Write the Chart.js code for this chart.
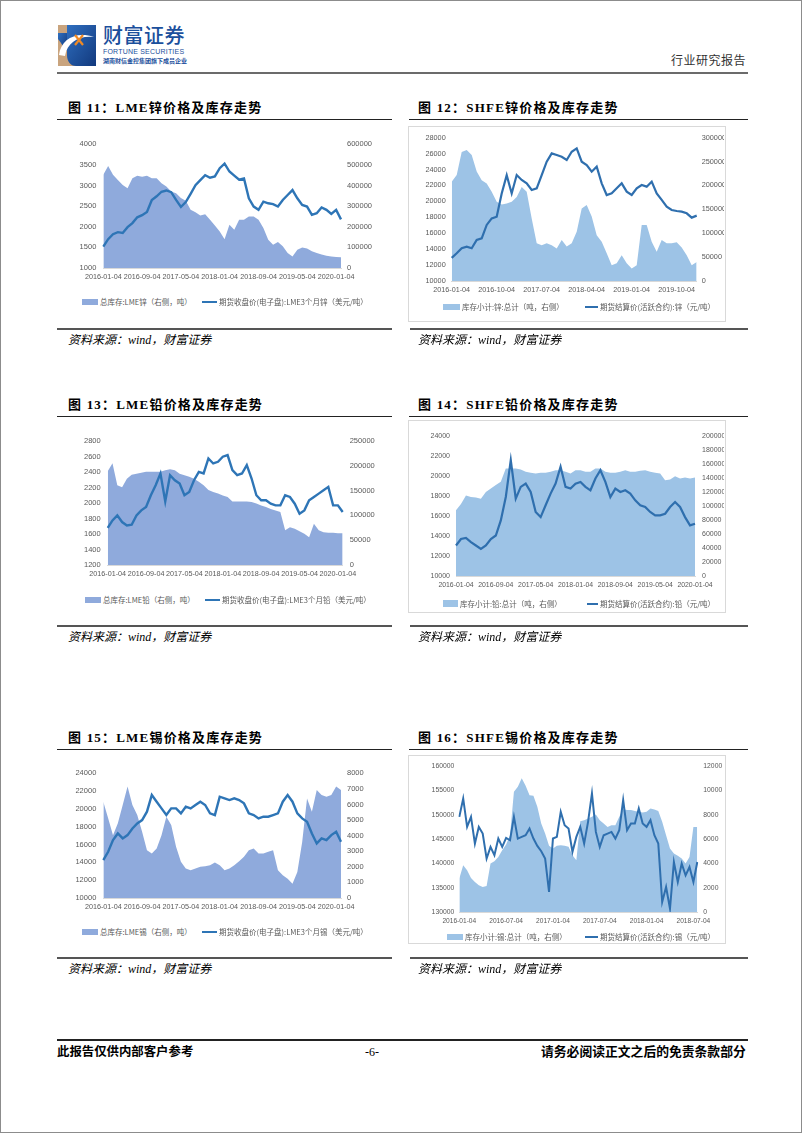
<!DOCTYPE html>
<html>
<head>
<meta charset="utf-8">
<script src="https://cdn.jsdelivr.net/npm/chart.js@4.4.0/dist/chart.umd.min.js"></script>
<style>
body { margin: 0; background: #fff; }
#page { position: relative; width: 802px; height: 1133px; overflow: hidden; font-family: "Noto Sans CJK SC", sans-serif; }
.frame { position: absolute; left: 0; top: 0; width: 800px; height: 1131px; border: 1px solid #8c8c8c; }
.abs { position: absolute; white-space: nowrap; }
.title { font-family: "Liberation Serif", "Noto Sans CJK SC", serif; font-weight: bold; font-size: 13px; letter-spacing: 1.2px; line-height: 16px; color: #000; }
.src { font-family: "Liberation Serif", "Noto Sans CJK SC", serif; font-style: italic; font-size: 12px; line-height: 14px; color: #000; }
.rule { position: absolute; }
.box { position: absolute; border: 1px solid #d9d9d9; box-sizing: border-box; }
canvas { position: absolute; }
.leg { position: absolute; font-size: 7.5px; line-height: 9px; color: #595959; white-space: nowrap; display: flex; align-items: center; }
.sw { display: inline-block; width: 16px; height: 6px; margin-right: 2px; }
.ln { display: inline-block; width: 15px; height: 2px; margin-right: 2px; }
</style>
</head>
<body>
<div id="page">
  <div class="frame"></div>

  <!-- header -->
  <svg class="abs" style="left:58px;top:25px" width="38" height="41" viewBox="0 0 38 41">
    <defs>
      <linearGradient id="lg" x1="0" y1="0" x2="1" y2="1">
        <stop offset="0" stop-color="#2f6fc0"/>
        <stop offset="1" stop-color="#12397d"/>
      </linearGradient>
    </defs>
    <rect x="0" y="0" width="38" height="41" fill="#c9a47e"/>
    <path d="M9 0 H38 V41 H18 C12 41 9 36 9 30 Z" fill="url(#lg)"/>
    <path d="M0 8 H9 V26 C5 22 2 16 0 14 Z" fill="url(#lg)"/>
    <path d="M1 30 C3 14 18 6 36 12 C22 10 9 17 7 31 Z" fill="#ffffff"/>
    <path d="M17 10 L25 20 M25 10 L17 20" stroke="#f08a24" stroke-width="2.2"/>
  </svg>
  <div class="abs" style="left:103px;top:22px;font-size:20px;line-height:26px;color:#1b4f9c;font-weight:500;letter-spacing:0.5px">财富证券</div>
  <div class="abs" style="left:103px;top:48px;font-family:'Liberation Sans';font-size:7px;line-height:8px;color:#1b4f9c;letter-spacing:0.2px">FORTUNE SECURITIES</div>
  <div class="abs" style="left:103px;top:57px;font-size:6px;line-height:8px;color:#1b4f9c;font-weight:bold">湖南财信金控集团旗下成员企业</div>
  <div class="abs" style="left:671px;top:52px;font-size:12px;line-height:16px;color:#333;letter-spacing:0.5px">行业研究报告</div>
  <div class="rule" style="left:57px;top:72px;width:691px;height:2px;background:#6b6b6b"></div>

  <!-- row 1 -->
  <div class="abs title" style="left:68px;top:100px">图 11：LME锌价格及库存走势</div>
  <div class="abs title" style="left:418px;top:100px">图 12：SHFE锌价格及库存走势</div>
  <div class="rule" style="left:57px;top:119px;width:335px;height:1px;background:#222"></div>
  <div class="rule" style="left:409px;top:119px;width:339px;height:1px;background:#222"></div>
  <div class="box" style="left:408px;top:126px;width:318px;height:196px"></div>
  <canvas id="c11" width="318" height="160" style="left:62px;top:128px"></canvas>
  <canvas id="c12" width="315" height="174" style="left:409px;top:127px"></canvas>
  <div class="leg" style="left:82px;top:297px"><span class="sw" style="background:rgb(143,170,220)"></span>总库存:LME锌（右侧，吨）</div>
  <div class="leg" style="left:202px;top:297px"><span class="ln" style="background:#2E75B6"></span>期货收盘价(电子盘):LME3个月锌（美元/吨）</div>
  <div class="leg" style="left:443px;top:302px"><span class="sw" style="background:rgb(157,195,230);width:17px"></span>库存小计:锌:总计（吨，右侧）</div>
  <div class="leg" style="left:585px;top:302px"><span class="ln" style="background:#2F6FAE;width:13px"></span>期货结算价(活跃合约):锌（元/吨）</div>
  <div class="rule" style="left:57px;top:328px;width:335px;height:2px;background:#555"></div>
  <div class="rule" style="left:410px;top:328px;width:338px;height:2px;background:#555"></div>
  <div class="abs src" style="left:68px;top:333px">资料来源：wind，财富证券</div>
  <div class="abs src" style="left:418px;top:333px">资料来源：wind，财富证券</div>

  <!-- row 2 -->
  <div class="abs title" style="left:68px;top:397px">图 13：LME铅价格及库存走势</div>
  <div class="abs title" style="left:418px;top:397px">图 14：SHFE铅价格及库存走势</div>
  <div class="rule" style="left:57px;top:416px;width:335px;height:1px;background:#222"></div>
  <div class="rule" style="left:409px;top:416px;width:339px;height:1px;background:#222"></div>
  <div class="box" style="left:408px;top:420px;width:318px;height:193px"></div>
  <canvas id="c13" width="318" height="160" style="left:62px;top:425px"></canvas>
  <canvas id="c14" width="315" height="175" style="left:409px;top:421px"></canvas>
  <div class="leg" style="left:85px;top:595px"><span class="sw" style="background:rgb(143,170,220)"></span>总库存:LME铅（右侧，吨）</div>
  <div class="leg" style="left:205px;top:595px"><span class="ln" style="background:#2E75B6"></span>期货收盘价(电子盘):LME3个月铅（美元/吨）</div>
  <div class="leg" style="left:443px;top:599px"><span class="sw" style="background:rgb(157,195,230);width:15px;height:7px"></span>库存小计:铅:总计（吨，右侧）</div>
  <div class="leg" style="left:587px;top:599px"><span class="ln" style="background:#2F6FAE;width:11px"></span>期货结算价(活跃合约):铅（元/吨）</div>
  <div class="rule" style="left:57px;top:625px;width:335px;height:2px;background:#555"></div>
  <div class="rule" style="left:410px;top:625px;width:338px;height:2px;background:#555"></div>
  <div class="abs src" style="left:68px;top:630px">资料来源：wind，财富证券</div>
  <div class="abs src" style="left:418px;top:630px">资料来源：wind，财富证券</div>

  <!-- row 3 -->
  <div class="abs title" style="left:68px;top:730px">图 15：LME锡价格及库存走势</div>
  <div class="abs title" style="left:418px;top:730px">图 16：SHFE锡价格及库存走势</div>
  <div class="rule" style="left:57px;top:749px;width:335px;height:1px;background:#222"></div>
  <div class="rule" style="left:409px;top:749px;width:339px;height:1px;background:#222"></div>
  <div class="box" style="left:408px;top:755px;width:318px;height:189px"></div>
  <canvas id="c15" width="318" height="163" style="left:62px;top:755px"></canvas>
  <canvas id="c16" width="315" height="176" style="left:409px;top:756px"></canvas>
  <div class="leg" style="left:82px;top:927px"><span class="sw" style="background:rgb(143,170,220)"></span>总库存:LME锡（右侧，吨）</div>
  <div class="leg" style="left:202px;top:927px"><span class="ln" style="background:#2E75B6"></span>期货收盘价(电子盘):LME3个月锡（美元/吨）</div>
  <div class="leg" style="left:447px;top:932px"><span class="sw" style="background:rgb(157,195,230)"></span>库存小计:锡:总计（吨，右侧）</div>
  <div class="leg" style="left:585px;top:932px"><span class="ln" style="background:#2F6FAE;width:13px"></span>期货结算价(活跃合约):锡（元/吨）</div>
  <div class="rule" style="left:57px;top:957px;width:335px;height:2px;background:#555"></div>
  <div class="rule" style="left:410px;top:957px;width:338px;height:2px;background:#555"></div>
  <div class="abs src" style="left:68px;top:962px">资料来源：wind，财富证券</div>
  <div class="abs src" style="left:418px;top:962px">资料来源：wind，财富证券</div>

  <!-- footer -->
  <div class="rule" style="left:57px;top:1039px;width:691px;height:2px;background:#222"></div>
  <div class="abs" style="left:57px;top:1044px;font-size:12.4px;line-height:16px;font-weight:bold;font-family:'Liberation Serif','Noto Sans CJK SC'">此报告仅供内部客户参考</div>
  <div class="abs" style="left:365px;top:1044px;font-size:12px;line-height:16px;font-family:'Liberation Serif'">-6-</div>
  <div class="abs" style="left:541px;top:1044px;font-size:12.8px;line-height:16px;font-weight:bold;font-family:'Liberation Serif','Noto Sans CJK SC'">请务必阅读正文之后的免责条款部分</div>
</div>

<script>
// tick labels shown on the x axes
const ticksEvery8 = ['2016-01-04', '2016-09-04', '2017-05-04', '2018-01-04', '2018-09-04', '2019-05-04', '2020-01-04'];
const ticks12 = ['2016-01-04', '2016-10-04', '2017-07-04', '2018-04-04', '2019-01-04', '2019-10-04'];
const ticks16 = ['2016-01-04', '2016-07-04', '2017-01-04', '2017-07-04', '2018-01-04', '2018-07-04'];

// categories: monthly dates (day 04), semi-monthly for fig. 16
function monthLabels(n, semi) {
    const out = [];
    for (let i = 0; i < n; i++) {
        const m = semi ? Math.floor(i / 2) : i;
        const y = 2016 + Math.floor(m / 12);
        const mm = String(m % 12 + 1).padStart(2, '0');
        out.push(y + '-' + mm + (semi && i % 2 ? '-19' : '-04'));
    }
    return out;
}
const months50 = monthLabels(50);
const months49 = monthLabels(49);
const halfMonths62 = monthLabels(62, true);

// 图11 LME zinc
const lmeZincPrice = [1520, 1700, 1820, 1870, 1850, 1990, 2090, 2230, 2280, 2360, 2650, 2740,
    2850, 2880, 2840, 2650, 2480, 2600, 2800, 3010, 3130, 3250, 3190, 3220,
    3420, 3530, 3340, 3240, 3140, 3170, 2690, 2490, 2410, 2610, 2570, 2550,
    2490, 2650, 2770, 2890, 2690, 2530, 2490, 2290, 2330, 2470, 2410, 2310,
    2410, 2180];
const lmeZincStock = [452000, 495000, 452000, 427000, 403000, 387000, 435000, 448000, 443000, 448000, 435000, 435000,
    411000, 395000, 371000, 363000, 339000, 326000, 282000, 271000, 255000, 261000, 234000, 206000,
    177000, 140000, 210000, 185000, 234000, 234000, 250000, 250000, 234000, 194000, 137000, 113000,
    126000, 105000, 73000, 56000, 89000, 100000, 94000, 81000, 73000, 65000, 60000, 56000,
    53000, 52000];

// 图12 SHFE zinc
const shfeZincPrice = [12900, 13480, 14110, 14320, 14110, 15150, 15360, 17040, 17870, 18080, 21000, 23300,
    21000, 23310, 22690, 22270, 21430, 21640, 23310, 24990, 26030, 25820, 25610, 25200,
    26240, 26660, 24990, 24570, 23730, 24360, 22270, 20800, 21010, 21640, 22270, 21220,
    20800, 21640, 22060, 21850, 22480, 21010, 20180, 19340, 18920, 18790, 18710, 18500,
    17960, 18210];
const shfeZincStock = [208000, 222000, 270000, 274000, 264000, 229000, 211000, 204000, 187000, 166000, 160000, 162000,
    166000, 176000, 197000, 187000, 131000, 79000, 75000, 79000, 75000, 68000, 86000, 72000,
    79000, 103000, 152000, 159000, 135000, 96000, 82000, 58000, 33000, 37000, 54000, 37000,
    26000, 33000, 117000, 117000, 82000, 61000, 86000, 79000, 79000, 81000, 70000, 54000,
    33000, 40000];

// 图13 LME lead
const lmeLeadPrice = [1680, 1775, 1840, 1754, 1710, 1720, 1840, 1905, 1948, 2100, 2229, 2380,
    2020, 2359, 2294, 2250, 2100, 2143, 2294, 2402, 2381, 2575, 2510, 2532,
    2597, 2618, 2424, 2359, 2381, 2489, 2316, 2100, 2035, 2035, 1991, 1970,
    1970, 2100, 2078, 1991, 1862, 1905, 2035, 2078, 2121, 2164, 2208, 1970,
    1970, 1883];
const lmeLeadStock = [189000, 205000, 161000, 157000, 174000, 182000, 184000, 186000, 188000, 188000, 188000, 188000,
    191000, 193000, 191000, 184000, 181000, 178000, 174000, 168000, 161000, 151000, 147000, 144000,
    140000, 137000, 128000, 128000, 128000, 128000, 127000, 124000, 120000, 117000, 113000, 110000,
    107000, 70000, 76000, 73000, 68000, 63000, 56000, 83000, 70000, 66000, 65000, 65000,
    64000, 64000];

// 图14 SHFE lead
const shfeLeadPrice = [13050, 13700, 13800, 13380, 13050, 12710, 13050, 13700, 14050, 15560, 17900, 21590,
    17740, 18910, 19240, 18400, 16400, 15890, 17070, 18240, 19240, 20920, 18910, 18740,
    19240, 19410, 18910, 18570, 19750, 20580, 19410, 17900, 18740, 18400, 18570, 18240,
    17570, 17070, 16900, 16400, 16060, 16060, 16230, 16900, 17400, 16900, 15890, 15060,
    15220];
const shfeLeadStock = [94000, 103000, 115000, 113000, 112000, 110500, 120000, 125000, 130000, 134500, 153600, 153600,
    153600, 152200, 148800, 147400, 146400, 147400, 147400, 148800, 151200, 151200, 148800, 146400,
    151200, 151200, 148800, 148800, 153600, 153600, 148800, 147400, 147400, 148800, 151200, 148800,
    148800, 150200, 151200, 148800, 147400, 146400, 136900, 137800, 142600, 139200, 140700, 139200,
    140700];

// 图15 LME tin
const lmeTinPrice = [14250, 15190, 16500, 17250, 16690, 17060, 17810, 18375, 18750, 19690, 21560, 20810,
    20060, 19310, 20060, 20060, 19500, 20250, 20060, 20440, 20810, 20440, 19500, 19310,
    21375, 21190, 21000, 21190, 21000, 20625, 19500, 19310, 18940, 19125, 19125, 19310,
    19500, 20810, 21560, 20810, 19500, 18940, 18560, 17250, 16125, 16690, 16500, 17060,
    17440, 16310];
const lmeTinStock = [6180, 5110, 4030, 4790, 5970, 7150, 5970, 5320, 4250, 3070, 2850, 3180,
    4030, 5210, 4680, 3280, 2320, 1890, 1780, 1890, 2000, 2040, 2100, 2270,
    2100, 1780, 1890, 2100, 2360, 2640, 3070, 3180, 2850, 2850, 2960, 3070,
    1780, 1460, 1240, 920, 1670, 3600, 6390, 5540, 6930, 6610, 6500, 6610,
    7150, 6930];

// 图16 SHFE tin (semi-monthly)
const shfeTinPrice = [149560, 153340, 147500, 149560, 144070, 147500, 146130, 140980, 143380, 141660, 145100, 143380,
    145230, 144750, 149560, 145100, 145440, 145780, 147160, 145100, 143590, 142490, 140980, 134110,
    145100, 145440, 150590, 147840, 147160, 142350, 145440, 147500, 144070, 148530, 154370, 146470,
    143380, 145780, 146130, 146470, 145100, 146810, 153000, 146810, 148190, 148190, 151280, 148190,
    147500, 148870, 145780, 144070, 132050, 135140, 130670, 140290, 136170, 139940, 137540, 139260,
    136170, 140290];
const shfeTinStock = [2750, 3850, 3430, 2800, 2470, 2200, 2060, 2140, 3980, 4180, 4530, 5080,
    5550, 6320, 9890, 10300, 10990, 10380, 9610, 9560, 8650, 7280, 6460, 5440,
    5220, 5440, 5490, 5440, 5360, 4670, 4260, 7470, 7550, 7690, 7830, 8020,
    7550, 7280, 7000, 7140, 7140, 7830, 8460, 8380, 8380, 8300, 8240, 8190,
    8240, 8520, 8430, 8300, 7420, 6320, 5220, 4810, 4620, 4400, 3980, 4530,
    7000, 7000];

Chart.defaults.font.family = "'Liberation Sans', Arial, sans-serif";
Chart.defaults.font.size = 7.5;
Chart.defaults.color = '#595959';

function makeChart(id, o) {
    const ctx = document.getElementById(id).getContext('2d');
    new Chart(ctx, {
        type: 'line',
        data: {
            labels: o.labels,
            datasets: [{
                label: o.priceName,
                data: o.price,
                yAxisID: 'yL',
                borderColor: o.lineColor,
                borderWidth: o.lineWidth,
                pointRadius: 0,
                tension: 0,
                fill: false,
                order: 0
            }, {
                label: o.stockName,
                data: o.stock,
                yAxisID: 'yR',
                backgroundColor: o.areaColor,
                borderWidth: 0,
                pointRadius: 0,
                tension: 0,
                fill: 'origin',
                order: 1
            }]
        },
        options: {
            responsive: false,
            animation: false,
            layout: { padding: { top: o.padTop, left: 0, right: 0, bottom: 0 } },
            plugins: { legend: { display: false }, tooltip: { enabled: false } },
            scales: {
                x: {
                    grid: { display: false, drawTicks: false },
                    border: { display: true, color: '#d9d9d9' },
                    ticks: {
                        autoSkip: false, maxRotation: 0, padding: 5, font: { size: o.xFont },
                        callback: function (v) {
                            const l = this.getLabelForValue(v);
                            return o.ticks.includes(l) ? l : '';
                        }
                    },
                    afterFit: s => { s.height = 20; }
                },
                yL: {
                    position: 'left', min: o.left[0], max: o.left[1],
                    grid: { display: false, drawTicks: false }, border: { display: false },
                    ticks: { stepSize: o.left[2], padding: o.padL, font: { size: o.yFont }, callback: v => String(v) },
                    afterFit: s => { s.width = o.leftW; }
                },
                yR: {
                    position: 'right', min: o.right[0], max: o.right[1],
                    grid: { display: false, drawTicks: false }, border: { display: false },
                    ticks: { stepSize: o.right[2], padding: o.padR, font: { size: o.yFont }, callback: v => String(v) },
                    afterFit: s => { s.width = o.rightW; }
                }
            }
        }
    });
}

const lmeArea = 'rgb(143,170,220)', shfeArea = 'rgb(157,195,230)';
const lmeLine = '#2E75B6', shfeLine = '#2F6FAE';

makeChart('c11', { labels: months50, ticks: ticksEvery8, price: lmeZincPrice, stock: lmeZincStock,
    priceName: '期货收盘价(电子盘):LME3个月锌', stockName: '总库存:LME锌',
    left: [1000, 4000, 500], right: [0, 600000, 100000],
    leftW: 41.3, rightW: 39, padTop: 16.3, padL: 7, padR: 6, xFont: 7.2, yFont: 7.5,
    lineColor: lmeLine, lineWidth: 2.4, areaColor: lmeArea });

makeChart('c12', { labels: months50, ticks: ticks12, price: shfeZincPrice, stock: shfeZincStock,
    priceName: '期货结算价(活跃合约):锌', stockName: '库存小计:锌:总计',
    left: [10000, 28000, 2000], right: [0, 300000, 50000],
    leftW: 42.7, rightW: 27.3, padTop: 10.7, padL: 6, padR: 5, xFont: 7.2, yFont: 7.3,
    lineColor: shfeLine, lineWidth: 2.2, areaColor: shfeArea });

makeChart('c13', { labels: months50, ticks: ticksEvery8, price: lmeLeadPrice, stock: lmeLeadStock,
    priceName: '期货收盘价(电子盘):LME3个月铅', stockName: '总库存:LME铅',
    left: [1200, 2800, 200], right: [0, 250000, 50000],
    leftW: 45.7, rightW: 37.3, padTop: 16, padL: 7, padR: 7, xFont: 7.2, yFont: 7.5,
    lineColor: lmeLine, lineWidth: 2.4, areaColor: lmeArea });

makeChart('c14', { labels: months49, ticks: ticksEvery8, price: shfeLeadPrice, stock: shfeLeadStock,
    priceName: '期货结算价(活跃合约):铅', stockName: '库存小计:铅:总计',
    left: [10000, 24000, 2000], right: [0, 200000, 20000],
    leftW: 47, rightW: 29, padTop: 15, padL: 6, padR: 7, xFont: 6.9, yFont: 7,
    lineColor: shfeLine, lineWidth: 2.2, areaColor: shfeArea });

makeChart('c15', { labels: months50, ticks: ticksEvery8, price: lmeTinPrice, stock: lmeTinStock,
    priceName: '期货收盘价(电子盘):LME3个月锡', stockName: '总库存:LME锡',
    left: [10000, 24000, 2000], right: [0, 8000, 1000],
    leftW: 41.3, rightW: 39, padTop: 18.3, padL: 7, padR: 6, xFont: 7.2, yFont: 7.5,
    lineColor: lmeLine, lineWidth: 2.4, areaColor: lmeArea });

makeChart('c16', { labels: halfMonths62, ticks: ticks16, price: shfeTinPrice, stock: shfeTinStock,
    priceName: '期货结算价(活跃合约):锡', stockName: '库存小计:锡:总计',
    left: [130000, 160000, 5000], right: [0, 12000, 2000],
    leftW: 50.3, rightW: 26.7, padTop: 10, padL: 5, padR: 6, xFont: 6.6, yFont: 6.8,
    lineColor: shfeLine, lineWidth: 2, areaColor: shfeArea });
</script>
</body>
</html>
